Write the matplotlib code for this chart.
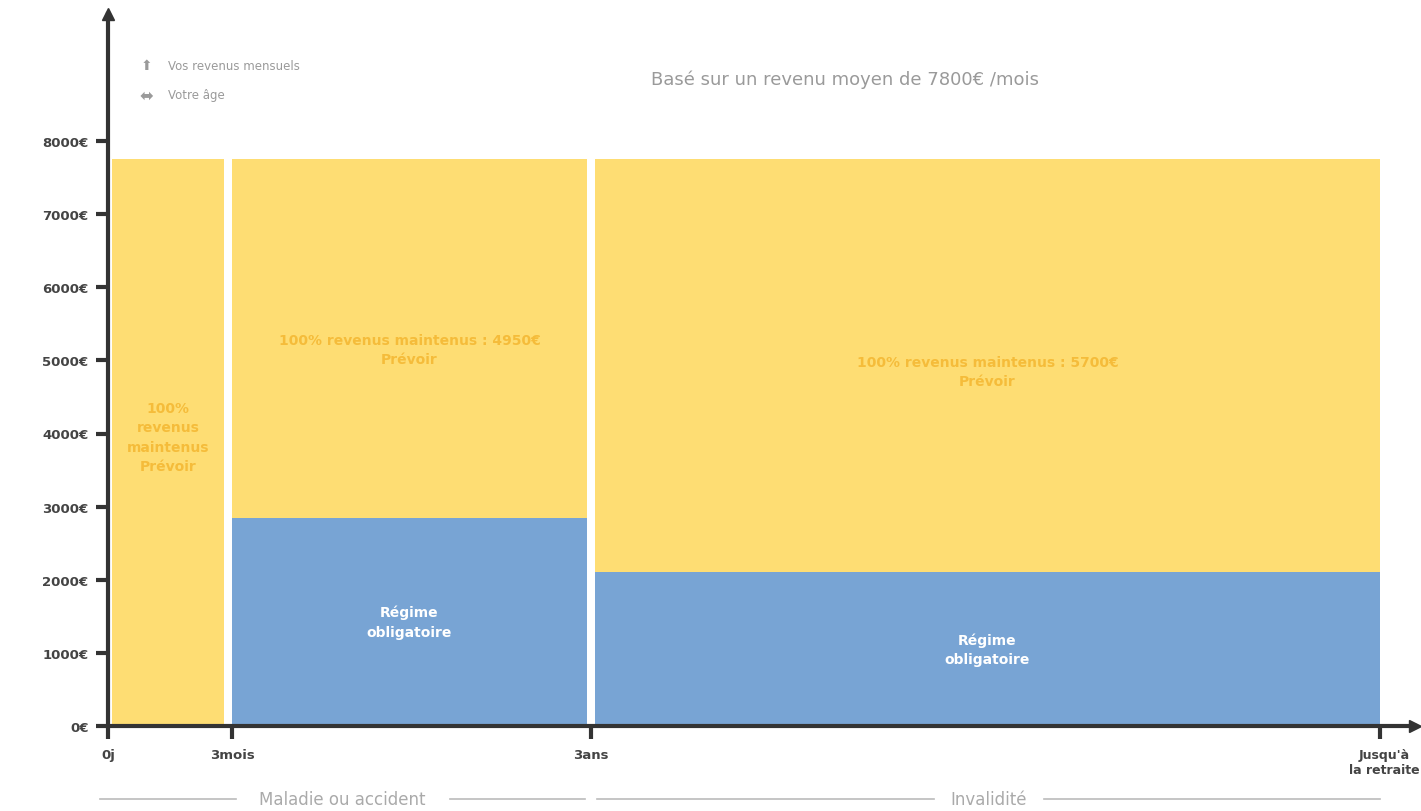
import matplotlib.pyplot as plt
from matplotlib.lines import Line2D
from matplotlib.transforms import ScaledTranslation

# x positions are offsets along the age axis (in px-like units)
tick_pos = [0, 124, 483, 1272]
tick_labels = ["0j", "3mois", "3ans", "Jusqu'à\nla retraite"]

# income segments: start, end, total income, compulsory scheme part
seg_start = [4, 124, 487]
seg_end = [116, 479, 1272]
total_income = [7750, 7750, 7750]
regime_part = [0, 2850, 2100]
prevoir_text = [
    "100%\nrevenus\nmaintenus\nPrévoir",
    "100% revenus maintenus : 4950€\nPrévoir",
    "100% revenus maintenus : 5700€\nPrévoir",
]
regime_text = ["", "Régime\nobligatoire", "Régime\nobligatoire"]

y_ticks = [0, 1000, 2000, 3000, 4000, 5000, 6000, 7000, 8000]
y_labels = [f"{v}€" for v in y_ticks]

YELLOW = "#FEDD73"
BLUE = "#78A4D4"
DARK = "#333333"
GREY = "#9A9A9A"
ORANGE = "#F5BC3A"

W, H = 1421, 812
fig = plt.figure(figsize=(W / 100, H / 100), dpi=100)
x0, y0 = 108, 727
x1, y1 = 1415, 15
ax = fig.add_axes([x0 / W, (H - y0) / H, (x1 - x0) / W, (y0 - y1) / H])
px_per_1000 = (727 - 142) / 8
ax.set_xlim(0, x1 - x0)
ax.set_ylim(0, (y0 - y1) / px_per_1000 * 1000)

widths = [e - s for s, e in zip(seg_start, seg_end)]
ax.bar(seg_start, total_income, width=widths, align="edge", color=YELLOW, zorder=1)
ax.bar(seg_start, regime_part, width=widths, align="edge", color=BLUE, zorder=2)

for s, e, tot, reg, tp, tr in zip(seg_start, seg_end, total_income, regime_part,
                                  prevoir_text, regime_text):
    cx = (s + e) / 2
    if reg == 0:
        ymid = 3950
    elif reg > 2500:
        ymid = 5150
    else:
        ymid = 4850
    ax.text(cx, ymid, tp, ha="center", va="center", color=ORANGE,
            fontsize=10, fontweight="bold", linespacing=1.5, zorder=3)
    if tr:
        ax.text(cx, reg / 2, tr, ha="center", va="center", color="white",
                fontsize=10, fontweight="bold", linespacing=1.5, zorder=3)

for side in ["top", "right"]:
    ax.spines[side].set_visible(False)
for side in ["left", "bottom"]:
    ax.spines[side].set_color(DARK)
    ax.spines[side].set_linewidth(3)
    ax.spines[side].set_zorder(4)

ax.plot(0, 1, marker="^", color=DARK, markersize=9, transform=ax.transAxes,
        clip_on=False, zorder=5)
ax.plot(1, 0, marker=">", color=DARK, markersize=9, transform=ax.transAxes,
        clip_on=False, zorder=5)

ax.set_yticks(y_ticks)
ax.set_yticklabels(y_labels)
ax.set_xticks(tick_pos)
ax.set_xticklabels(tick_labels)
ax.tick_params(axis="both", colors=DARK, width=3, length=9, direction="out",
               labelsize=9.5)
ax.tick_params(axis="y", pad=5)
ax.tick_params(axis="x", pad=7)
for lab in ax.get_xticklabels() + ax.get_yticklabels():
    lab.set_fontweight("bold")
    lab.set_color("#444444")
last = ax.get_xticklabels()[-1]
last.set_fontsize(9)
last.set_transform(last.get_transform() + ScaledTranslation(0.04, 0, fig.dpi_scale_trans))

# top annotations
fig.text(845 / W, 1 - 80 / H, "Basé sur un revenu moyen de 7800€ /mois",
         ha="center", va="center", color=GREY, fontsize=13)
fig.text(146 / W, 1 - 66 / H, "⬆", ha="center", va="center", color=GREY, fontsize=10)
fig.text(146 / W, 1 - 96 / H, "⬌", ha="center", va="center", color=GREY, fontsize=12)
fig.text(168 / W, 1 - 66 / H, "Vos revenus mensuels", ha="left", va="center",
         color=GREY, fontsize=8.5)
fig.text(168 / W, 1 - 96 / H, "Votre âge", ha="left", va="center",
         color=GREY, fontsize=8.5)

# bottom period brackets
yb = 1 - 800 / H
for (a, b, label, gap) in [(100, 585, "Maladie ou accident", 107),
                           (597, 1380, "Invalidité", 55)]:
    mid = (a + b) / 2
    for xs in [(a, mid - gap), (mid + gap, b)]:
        fig.add_artist(Line2D([xs[0] / W, xs[1] / W], [yb, yb], color="#BBBBBB", lw=1.2))
    fig.text(mid / W, yb, label, ha="center", va="center", color="#AAAAAA", fontsize=12)

fig.savefig("out.png", dpi=100)
